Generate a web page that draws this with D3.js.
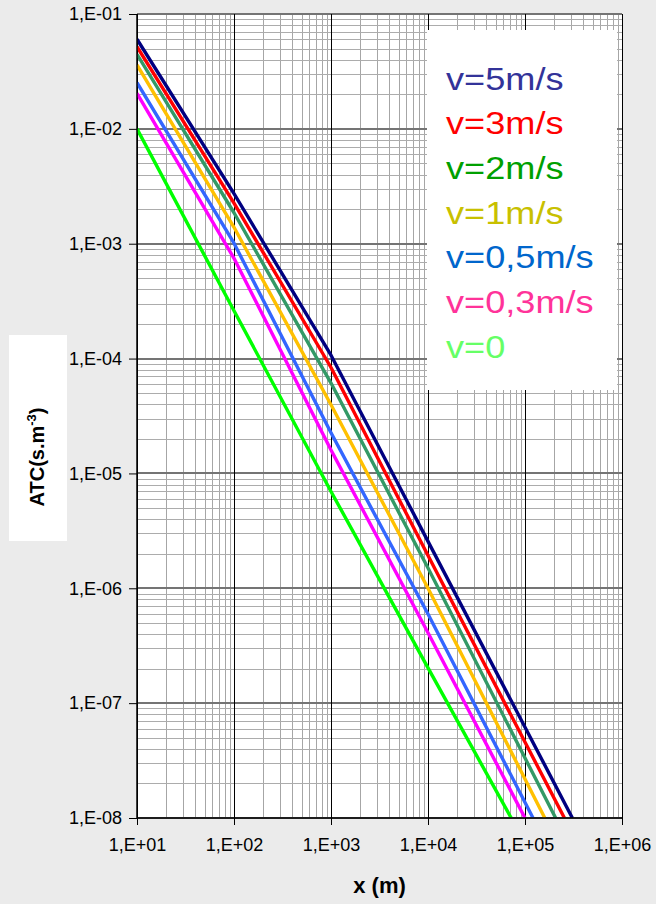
<!DOCTYPE html>
<html>
<head>
<meta charset="utf-8">
<script src="https://cdn.jsdelivr.net/npm/d3@7"></script>
<style>
  html, body { margin: 0; padding: 0; background: #ebebeb; }
  svg { display: block; font-family: Arial, 'Liberation Sans', sans-serif; }
</style>
</head>
<body>
<svg id="chart" width="656" height="904"></svg>
<script>
// distance points (m) shared by all curves, the last point of each curve is where it leaves the chart at 1e-8
const xPoints = [10, 100, 1000, 10000]
const yFloor = 1e-8

const seriesNames = ['v=5m/s', 'v=3m/s', 'v=2m/s', 'v=1m/s', 'v=0,5m/s', 'v=0,3m/s', 'v=0']
const atcV5 = [6.03e-2, 2.73e-3, 1.07e-4, 2.56e-6]
const atcV3 = [5.19e-2, 2.26e-3, 8.36e-5, 1.93e-6]
const atcV2 = [4.46e-2, 1.86e-3, 6.12e-5, 1.50e-6]
const atcV1 = [3.60e-2, 1.39e-3, 3.96e-5, 1.00e-6]
const atcV05 = [2.52e-2, 1.01e-3, 2.26e-5, 5.97e-7]
const atcV03 = [2.04e-2, 7.46e-4, 1.60e-5, 4.10e-7]
const atcV0 = [1.00e-2, 2.61e-4, 6.97e-6, 2.03e-7]
const xAtFloor = [3.08e5, 2.55e5, 2.07e5, 1.60e5, 1.21e5, 1.00e5, 7.21e4]

const lineColors = ['#000080', '#ff0000', '#339966', '#ffc000', '#3366ff', '#ff00ff', '#00ff00']
const labelColors = ['#333399', '#ff0000', '#00a000', '#c8c000', '#0066cc', '#ff3399', '#66ff66']

const xTicks = [1e1, 1e2, 1e3, 1e4, 1e5, 1e6]
const yTicks = [1e-1, 1e-2, 1e-3, 1e-4, 1e-5, 1e-6, 1e-7, 1e-8]

const series = [atcV5, atcV3, atcV2, atcV1, atcV05, atcV03, atcV0].map((ys, i) => ({
  name: seriesNames[i],
  line: lineColors[i],
  label: labelColors[i],
  points: xPoints.map((x, j) => [x, ys[j]]).concat([[xAtFloor[i], yFloor]])
}))

const plot = { left: 137, right: 622, top: 14, bottom: 818 }

const svg = d3.select('#chart')
const x = d3.scaleLog().domain([1e1, 1e6]).range([plot.left, plot.right])
const y = d3.scaleLog().domain([1e-8, 1e-1]).range([plot.bottom, plot.top])

const sciLabel = v => {
  const e = Math.round(Math.log10(v))
  const sign = e < 0 ? '-' : '+'
  return `1,E${sign}${String(Math.abs(e)).padStart(2, '0')}`
}

// plot background
svg.append('rect')
  .attr('x', plot.left).attr('y', plot.top)
  .attr('width', plot.right - plot.left).attr('height', plot.bottom - plot.top)
  .attr('fill', '#fff')

const minorOf = ticks => {
  const out = []
  for (let k = 0; k < ticks.length - 1; k++) {
    for (let m = 2; m <= 9; m++) out.push(ticks[k] * m)
  }
  return out
}

const grid = svg.append('g').attr('shape-rendering', 'crispEdges')
grid.selectAll('.vminor').data(minorOf(xTicks)).enter().append('line')
  .attr('x1', d => Math.round(x(d)) + 0.5).attr('x2', d => Math.round(x(d)) + 0.5)
  .attr('y1', plot.top).attr('y2', plot.bottom)
  .attr('stroke', '#a6a6a6').attr('stroke-width', 1)
grid.selectAll('.hminor').data(minorOf(yTicks.slice().reverse())).enter().append('line')
  .attr('x1', plot.left).attr('x2', plot.right)
  .attr('y1', d => Math.round(y(d)) + 0.5).attr('y2', d => Math.round(y(d)) + 0.5)
  .attr('stroke', '#acacac').attr('stroke-width', 1)
grid.selectAll('.hmajor').data(yTicks).enter().append('line')
  .attr('x1', plot.left).attr('x2', plot.right)
  .attr('y1', d => y(d)).attr('y2', d => y(d))
  .attr('stroke', '#747474').attr('stroke-width', 2)
grid.selectAll('.vmajor').data(xTicks).enter().append('line')
  .attr('x1', d => Math.round(x(d)) + 0.5).attr('x2', d => Math.round(x(d)) + 0.5)
  .attr('y1', plot.top).attr('y2', plot.bottom)
  .attr('stroke', '#000').attr('stroke-width', 1)

// curves
svg.append('clipPath').attr('id', 'plotClip').append('rect')
  .attr('x', plot.left).attr('y', plot.top)
  .attr('width', plot.right - plot.left).attr('height', plot.bottom - plot.top)

const line = d3.line().x(d => x(d[0])).y(d => y(d[1]))
svg.append('g').attr('clip-path', 'url(#plotClip)')
  .selectAll('path').data(series.slice().reverse()).enter().append('path')
  .attr('d', d => line(d.points))
  .attr('fill', 'none')
  .attr('stroke', d => d.line)
  .attr('stroke-width', 3.4)
  .attr('stroke-linejoin', 'round')

// axes
const yAxis = svg.append('g').attr('transform', `translate(${plot.left},0)`)
  .call(d3.axisLeft(y).tickValues(yTicks).tickFormat(sciLabel).tickSize(8).tickPadding(7))
const xAxis = svg.append('g').attr('transform', `translate(0,${plot.bottom})`)
  .call(d3.axisBottom(x).tickValues(xTicks).tickFormat(sciLabel).tickSize(7).tickPadding(13))
for (const ax of [xAxis, yAxis]) {
  ax.select('.domain').attr('stroke', '#000').attr('stroke-width', 1.5)
  ax.selectAll('.tick line').attr('stroke', '#000')
  ax.selectAll('.tick text').attr('font-size', 18).attr('fill', '#000')
    .attr('font-family', 'Arial, Liberation Sans, sans-serif')
}
xAxis.select('.domain').attr('d', `M${plot.left},0H${plot.right}`)
yAxis.select('.domain').attr('d', `M0,${plot.top}V${plot.bottom}`)

// legend
const legend = svg.append('g')
legend.append('rect')
  .attr('x', 427).attr('y', 30).attr('width', 190).attr('height', 360)
  .attr('fill', '#fff')
legend.selectAll('text').data(series).enter().append('text')
  .attr('transform', (d, i) => `translate(446,${89.5 + i * 44.7}) scale(1.13,1)`)
  .attr('font-size', 32)
  .attr('fill', d => d.label)
  .text(d => d.name)

// axis titles
svg.append('rect')
  .attr('x', 9).attr('y', 335).attr('width', 58).attr('height', 206)
  .attr('fill', '#fff')
const yTitle = svg.append('text')
  .attr('transform', 'translate(44,457) rotate(-90)')
  .attr('text-anchor', 'middle')
  .attr('font-size', 20).attr('font-weight', 'bold')
yTitle.append('tspan').text('ATC(s.m')
yTitle.append('tspan').attr('font-size', 13).attr('dy', -8).text('-3')
yTitle.append('tspan').attr('dy', 8).text(')')

svg.append('text')
  .attr('x', (plot.left + plot.right) / 2).attr('y', 893)
  .attr('text-anchor', 'middle')
  .attr('font-size', 22).attr('font-weight', 'bold')
  .text('x (m)')
</script>
</body>
</html>
